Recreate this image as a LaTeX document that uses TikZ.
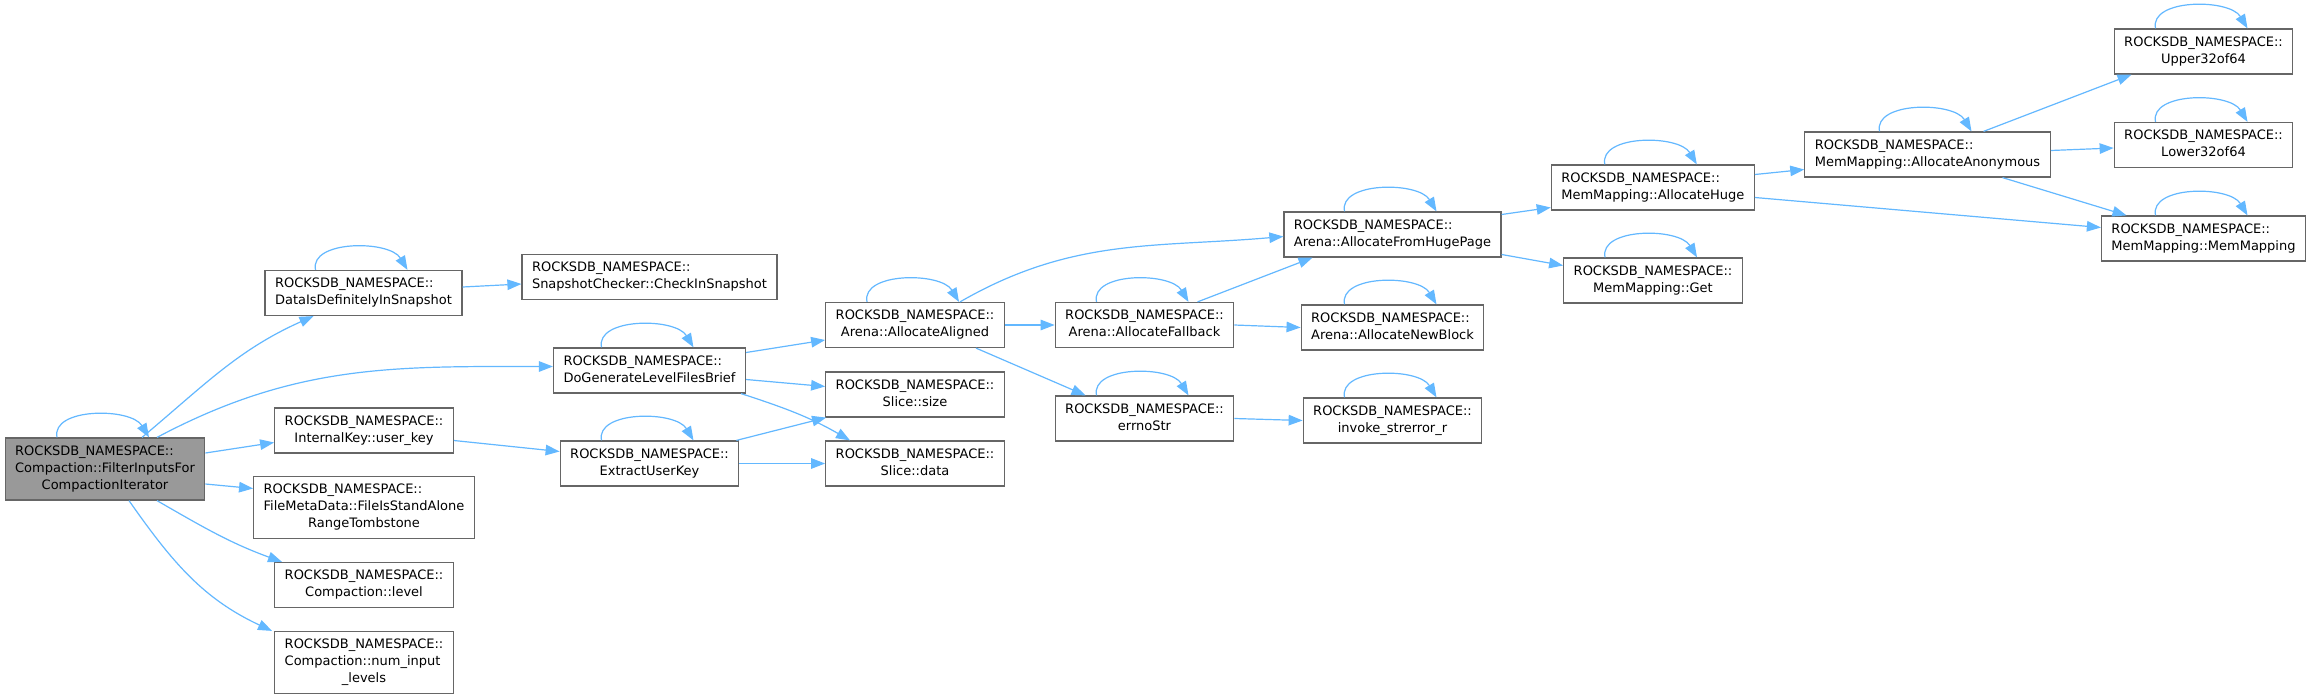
\documentclass[tikz,border=0pt]{standalone}
\usepackage{fontspec}
\setmainfont{DejaVu Sans}
\usetikzlibrary{arrows.meta}
\definecolor{edgeblue}{HTML}{63B8FF}
\definecolor{boxgray}{HTML}{666666}
\definecolor{focusgray}{HTML}{999999}
\newcommand{\twoline}[2]{\begin{tabular}{@{}l@{}}#1\\\multicolumn{1}{@{}c@{}}{#2}\end{tabular}}
\newcommand{\threeline}[3]{\begin{tabular}{@{}l@{}}#1\\#2\\\multicolumn{1}{@{}c@{}}{#3}\end{tabular}}
\begin{document}
\begin{tikzpicture}[x=1pt, y=-1pt,
    fn/.style={draw=boxgray, line width=1.2pt, fill=white, inner xsep=10pt, inner ysep=5.5pt, font=\fontsize{13}{17}\selectfont},
    focus/.style={fn, fill=focusgray},
    call/.style={draw=edgeblue, line width=1.2pt, -{Triangle[length=14pt,width=10.5pt]}}]
        \fill[white] (0,0) rectangle (2313,699);
        \node[focus] (filter) at (105,469) {\threeline{ROCKSDB\_NAMESPACE::}{Compaction::FilterInputsFor}{CompactionIterator}};
        \node[fn] (datadef) at (363.5,293) {\twoline{ROCKSDB\_NAMESPACE::}{DataIsDefinitelyInSnapshot}};
        \node[fn] (checksnap) at (649.5,277) {\twoline{ROCKSDB\_NAMESPACE::}{SnapshotChecker::CheckInSnapshot}};
        \node[fn] (dogen) at (649.5,370.5) {\twoline{ROCKSDB\_NAMESPACE::}{DoGenerateLevelFilesBrief}};
        \node[fn] (userkey) at (364,430.5) {\twoline{ROCKSDB\_NAMESPACE::}{InternalKey::user\_key}};
        \node[fn] (filemeta) at (364,507.5) {\threeline{ROCKSDB\_NAMESPACE::}{FileMetaData::FileIsStandAlone}{RangeTombstone}};
        \node[fn] (level) at (364,585) {\twoline{ROCKSDB\_NAMESPACE::}{Compaction::level}};
        \node[fn] (numlevels) at (364,662.5) {\threeline{ROCKSDB\_NAMESPACE::}{Compaction::num\_input}{\_levels}};
        \node[fn] (extract) at (649.5,463.5) {\twoline{ROCKSDB\_NAMESPACE::}{ExtractUserKey}};
        \node[fn] (aligned) at (915,325) {\twoline{ROCKSDB\_NAMESPACE::}{Arena::AllocateAligned}};
        \node[fn] (slsize) at (915,394.5) {\twoline{ROCKSDB\_NAMESPACE::}{Slice::size}};
        \node[fn] (sldata) at (915,463.5) {\twoline{ROCKSDB\_NAMESPACE::}{Slice::data}};
        \node[fn] (fallback) at (1144.5,325) {\twoline{ROCKSDB\_NAMESPACE::}{Arena::AllocateFallback}};
        \node[fn] (errnostr) at (1144.5,418.5) {\twoline{ROCKSDB\_NAMESPACE::}{errnoStr}};
        \node[fn] (hugepage) at (1392.5,234.5) {\twoline{ROCKSDB\_NAMESPACE::}{Arena::AllocateFromHugePage}};
        \node[fn] (newblock) at (1392.5,327.5) {\twoline{ROCKSDB\_NAMESPACE::}{Arena::AllocateNewBlock}};
        \node[fn] (strerror) at (1392.5,420.5) {\twoline{ROCKSDB\_NAMESPACE::}{invoke\_strerror\_r}};
        \node[fn] (allochuge) at (1652.8,187.5) {\twoline{ROCKSDB\_NAMESPACE::}{MemMapping::AllocateHuge}};
        \node[fn] (mmget) at (1653,280.5) {\twoline{ROCKSDB\_NAMESPACE::}{MemMapping::Get}};
        \node[fn] (anon) at (1927.5,154.5) {\twoline{ROCKSDB\_NAMESPACE::}{MemMapping::AllocateAnonymous}};
        \node[fn] (upper) at (2203.5,51.5) {\twoline{ROCKSDB\_NAMESPACE::}{Upper32of64}};
        \node[fn] (lower) at (2203.5,145) {\twoline{ROCKSDB\_NAMESPACE::}{Lower32of64}};
        \node[fn] (memmap) at (2203.5,238.5) {\twoline{ROCKSDB\_NAMESPACE::}{MemMapping::MemMapping}};
        \draw[call] ([xshift=-48pt]filter.north) .. controls +(-6pt,30pt) and +(-18pt,30pt) .. ([xshift=44pt]filter.north);
        \draw[call] ([xshift=37pt]filter.north) to[out=40, in=-156] ([xshift=-50pt]datadef.south);
        \draw[call] ([xshift=52pt]filter.north) to[out=28, in=180] ([yshift=4pt]dogen.west);
        \draw[call] ([yshift=16pt]filter.east) -- ([yshift=-12pt]userkey.west);
        \draw[call] ([yshift=-15pt]filter.east) -- ([yshift=19pt]filemeta.west);
        \draw[call] ([xshift=52pt]filter.south) to[out=-30, in=160] ([xshift=-82pt]level.north);
        \draw[call] ([xshift=24pt]filter.south) to[out=-55, in=155] ([xshift=-92pt]numlevels.north);
        \draw[call] ([xshift=-48pt]datadef.north) .. controls +(-6pt,30pt) and +(-18pt,30pt) .. ([xshift=44pt]datadef.north);
        \draw[call] ([yshift=6pt]datadef.east) -- ([yshift=-7pt]checksnap.west);
        \draw[call] ([yshift=-10pt]userkey.east) -- ([yshift=12pt]extract.west);
        \draw[call] ([xshift=-48pt]dogen.north) .. controls +(-6pt,30pt) and +(-18pt,30pt) .. ([xshift=44pt]dogen.north);
        \draw[call] ([yshift=18pt]dogen.east) -- ([yshift=-15pt]aligned.west);
        \draw[call] ([yshift=-9pt]dogen.east) -- ([yshift=8pt]slsize.west);
        \draw[call] ([xshift=-5pt]dogen.south east) to[out=-18, in=150] ([xshift=-65pt]sldata.north);
        \draw[call] ([xshift=-48pt]extract.north) .. controls +(-6pt,30pt) and +(-18pt,30pt) .. ([xshift=44pt]extract.north);
        \draw[call] ([xshift=-3pt]extract.north east) -- ([xshift=1pt]slsize.south west);
        \draw[call] (extract.east) -- (sldata.west);
        \draw[call] ([xshift=-48pt]aligned.north) .. controls +(-6pt,30pt) and +(-18pt,30pt) .. ([xshift=44pt]aligned.north);
        \draw[call] ([xshift=45pt]aligned.north) to[out=30, in=185] ([yshift=-2pt]hugepage.west);
        \draw[call] (aligned.east) -- (fallback.west);
        \draw[call] ([xshift=61pt]aligned.south) -- ([xshift=-59pt]errnostr.north);
        \draw[call] ([xshift=-48pt]fallback.north) .. controls +(-6pt,30pt) and +(-18pt,30pt) .. ([xshift=44pt]fallback.north);
        \draw[call] ([xshift=53pt]fallback.north) -- ([xshift=-80pt]hugepage.south);
        \draw[call] (fallback.east) -- (newblock.west);
        \draw[call] ([xshift=-48pt]errnostr.north) .. controls +(-6pt,30pt) and +(-18pt,30pt) .. ([xshift=44pt]errnostr.north);
        \draw[call] (errnostr.east) -- (strerror.west);
        \draw[call] ([xshift=-48pt]hugepage.north) .. controls +(-6pt,30pt) and +(-18pt,30pt) .. ([xshift=44pt]hugepage.north);
        \draw[call] ([yshift=20pt]hugepage.east) -- ([yshift=-20pt]allochuge.west);
        \draw[call] ([yshift=-20pt]hugepage.east) -- ([yshift=15pt]mmget.west);
        \draw[call] ([xshift=-48pt]newblock.north) .. controls +(-6pt,30pt) and +(-18pt,30pt) .. ([xshift=44pt]newblock.north);
        \draw[call] ([xshift=-48pt]strerror.north) .. controls +(-6pt,30pt) and +(-18pt,30pt) .. ([xshift=44pt]strerror.north);
        \draw[call] ([xshift=-48pt]allochuge.north) .. controls +(-6pt,30pt) and +(-18pt,30pt) .. ([xshift=44pt]allochuge.north);
        \draw[call] ([yshift=13pt]allochuge.east) -- ([yshift=-15pt]anon.west);
        \draw[call] ([yshift=-10pt]allochuge.east) -- ([yshift=11pt]memmap.west);
        \draw[call] ([xshift=-48pt]mmget.north) .. controls +(-6pt,30pt) and +(-18pt,30pt) .. ([xshift=44pt]mmget.north);
        \draw[call] ([xshift=-48pt]anon.north) .. controls +(-6pt,30pt) and +(-18pt,30pt) .. ([xshift=44pt]anon.north);
        \draw[call] ([xshift=56pt]anon.north) -- ([xshift=-72pt]upper.south);
        \draw[call] ([yshift=4pt]anon.east) -- ([yshift=-3pt]lower.west);
        \draw[call] ([xshift=75pt]anon.south) -- ([xshift=-77pt]memmap.north);
        \draw[call] ([xshift=-48pt]upper.north) .. controls +(-6pt,30pt) and +(-18pt,30pt) .. ([xshift=44pt]upper.north);
        \draw[call] ([xshift=-48pt]lower.north) .. controls +(-6pt,30pt) and +(-18pt,30pt) .. ([xshift=44pt]lower.north);
        \draw[call] ([xshift=-48pt]memmap.north) .. controls +(-6pt,30pt) and +(-18pt,30pt) .. ([xshift=44pt]memmap.north);
        \pgfresetboundingbox
        \useasboundingbox (0,0) rectangle (2313,699);
    \end{tikzpicture}
\end{document}
